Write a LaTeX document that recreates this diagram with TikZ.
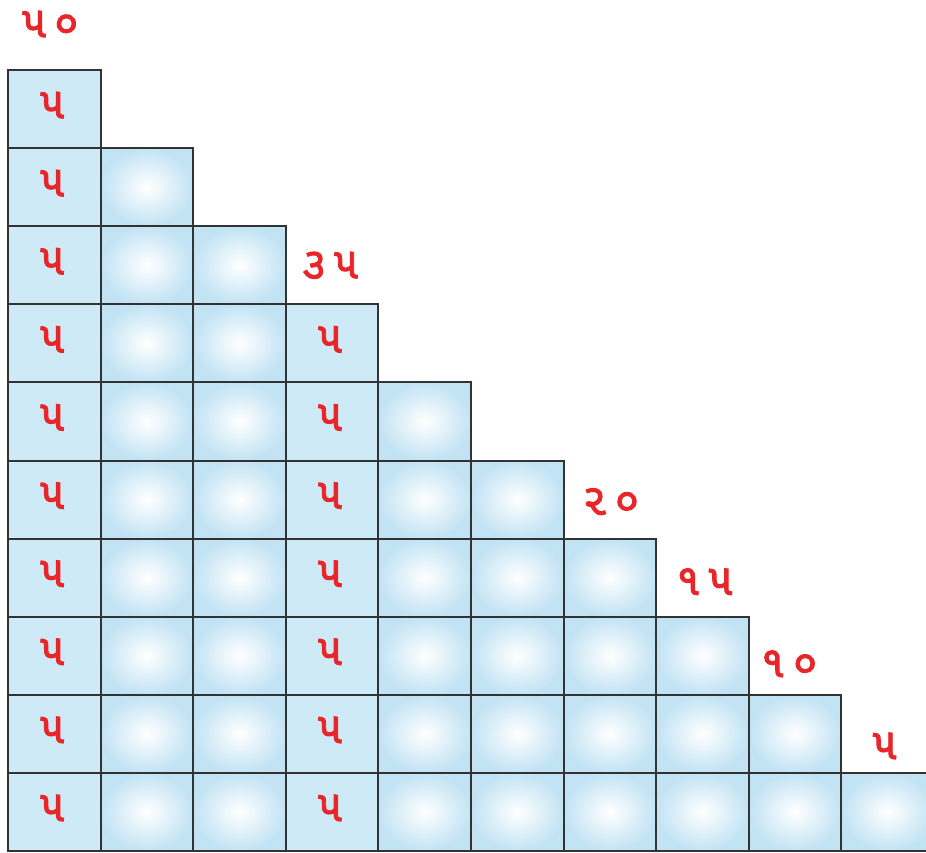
\documentclass[tikz,border=0pt]{standalone}
\usepackage{fontspec}
\newfontfamily\gujfont[Script=Gujarati,LetterSpace=18,FakeBold=2]{Noto Sans Gujarati UI}
\definecolor{cellblue}{HTML}{C2E3F4}
\definecolor{flatblue}{HTML}{CFEAF7}
\definecolor{gridline}{HTML}{333333}
\definecolor{numred}{HTML}{E8262A}
\tikzset{
  cellbase/.style={draw=gridline, line width=2pt, minimum width=92.6pt, minimum height=78.1pt, anchor=north west, inner sep=0pt, outer sep=0pt},
  glowcell/.style={cellbase, inner color=white, outer color=cellblue},
  flatcell/.style={cellbase, fill=flatblue},
  num/.style={text=numred, font=\gujfont\fontsize{44}{48}\selectfont, inner sep=0pt},
}
\begin{document}
\begin{tikzpicture}[x=1pt,y=-1pt]
\useasboundingbox (0,0) rectangle (926,852);
% columns: column c has 10-c cells, top at row c
\foreach \c in {0,...,9}{
  \foreach \r in {\c,...,9}{
    \pgfmathsetmacro{\xx}{8+92.6*\c}
    \pgfmathsetmacro{\yy}{70+78.1*\r}
    \ifnum\c=0
      \node[flatcell] (c\c-\r) at (\xx,\yy) {};
      \node[num] (t\c-\r) at ([xshift=-2pt,yshift=4pt]c\c-\r.center) {૫};
    \else\ifnum\c=3
      \node[flatcell] (c\c-\r) at (\xx,\yy) {};
      \node[num] (t\c-\r) at ([xshift=-2pt,yshift=4pt]c\c-\r.center) {૫};
    \else
      \node[glowcell] (c\c-\r) at (\xx,\yy) {};
    \fi\fi
  }
}
\node[num] (l50) at ([xshift=-4pt,yshift=46pt]c0-0.north) {૫૦};
\node[num] (l35) at ([xshift=-2pt,yshift=39pt]c3-3.north) {૩૫};
\node[num] (l20) at ([xshift=1pt,yshift=37pt]c6-6.north) {૨૦};
\node[num] (l15) at ([xshift=2pt,yshift=35pt]c7-7.north) {૧૫};
\node[num] (l10) at ([xshift=-6pt,yshift=31pt]c8-8.north) {૧૦};
\node[num] (l5) at ([xshift=-3pt,yshift=27pt]c9-9.north) {૫};
\end{tikzpicture}
\end{document}
